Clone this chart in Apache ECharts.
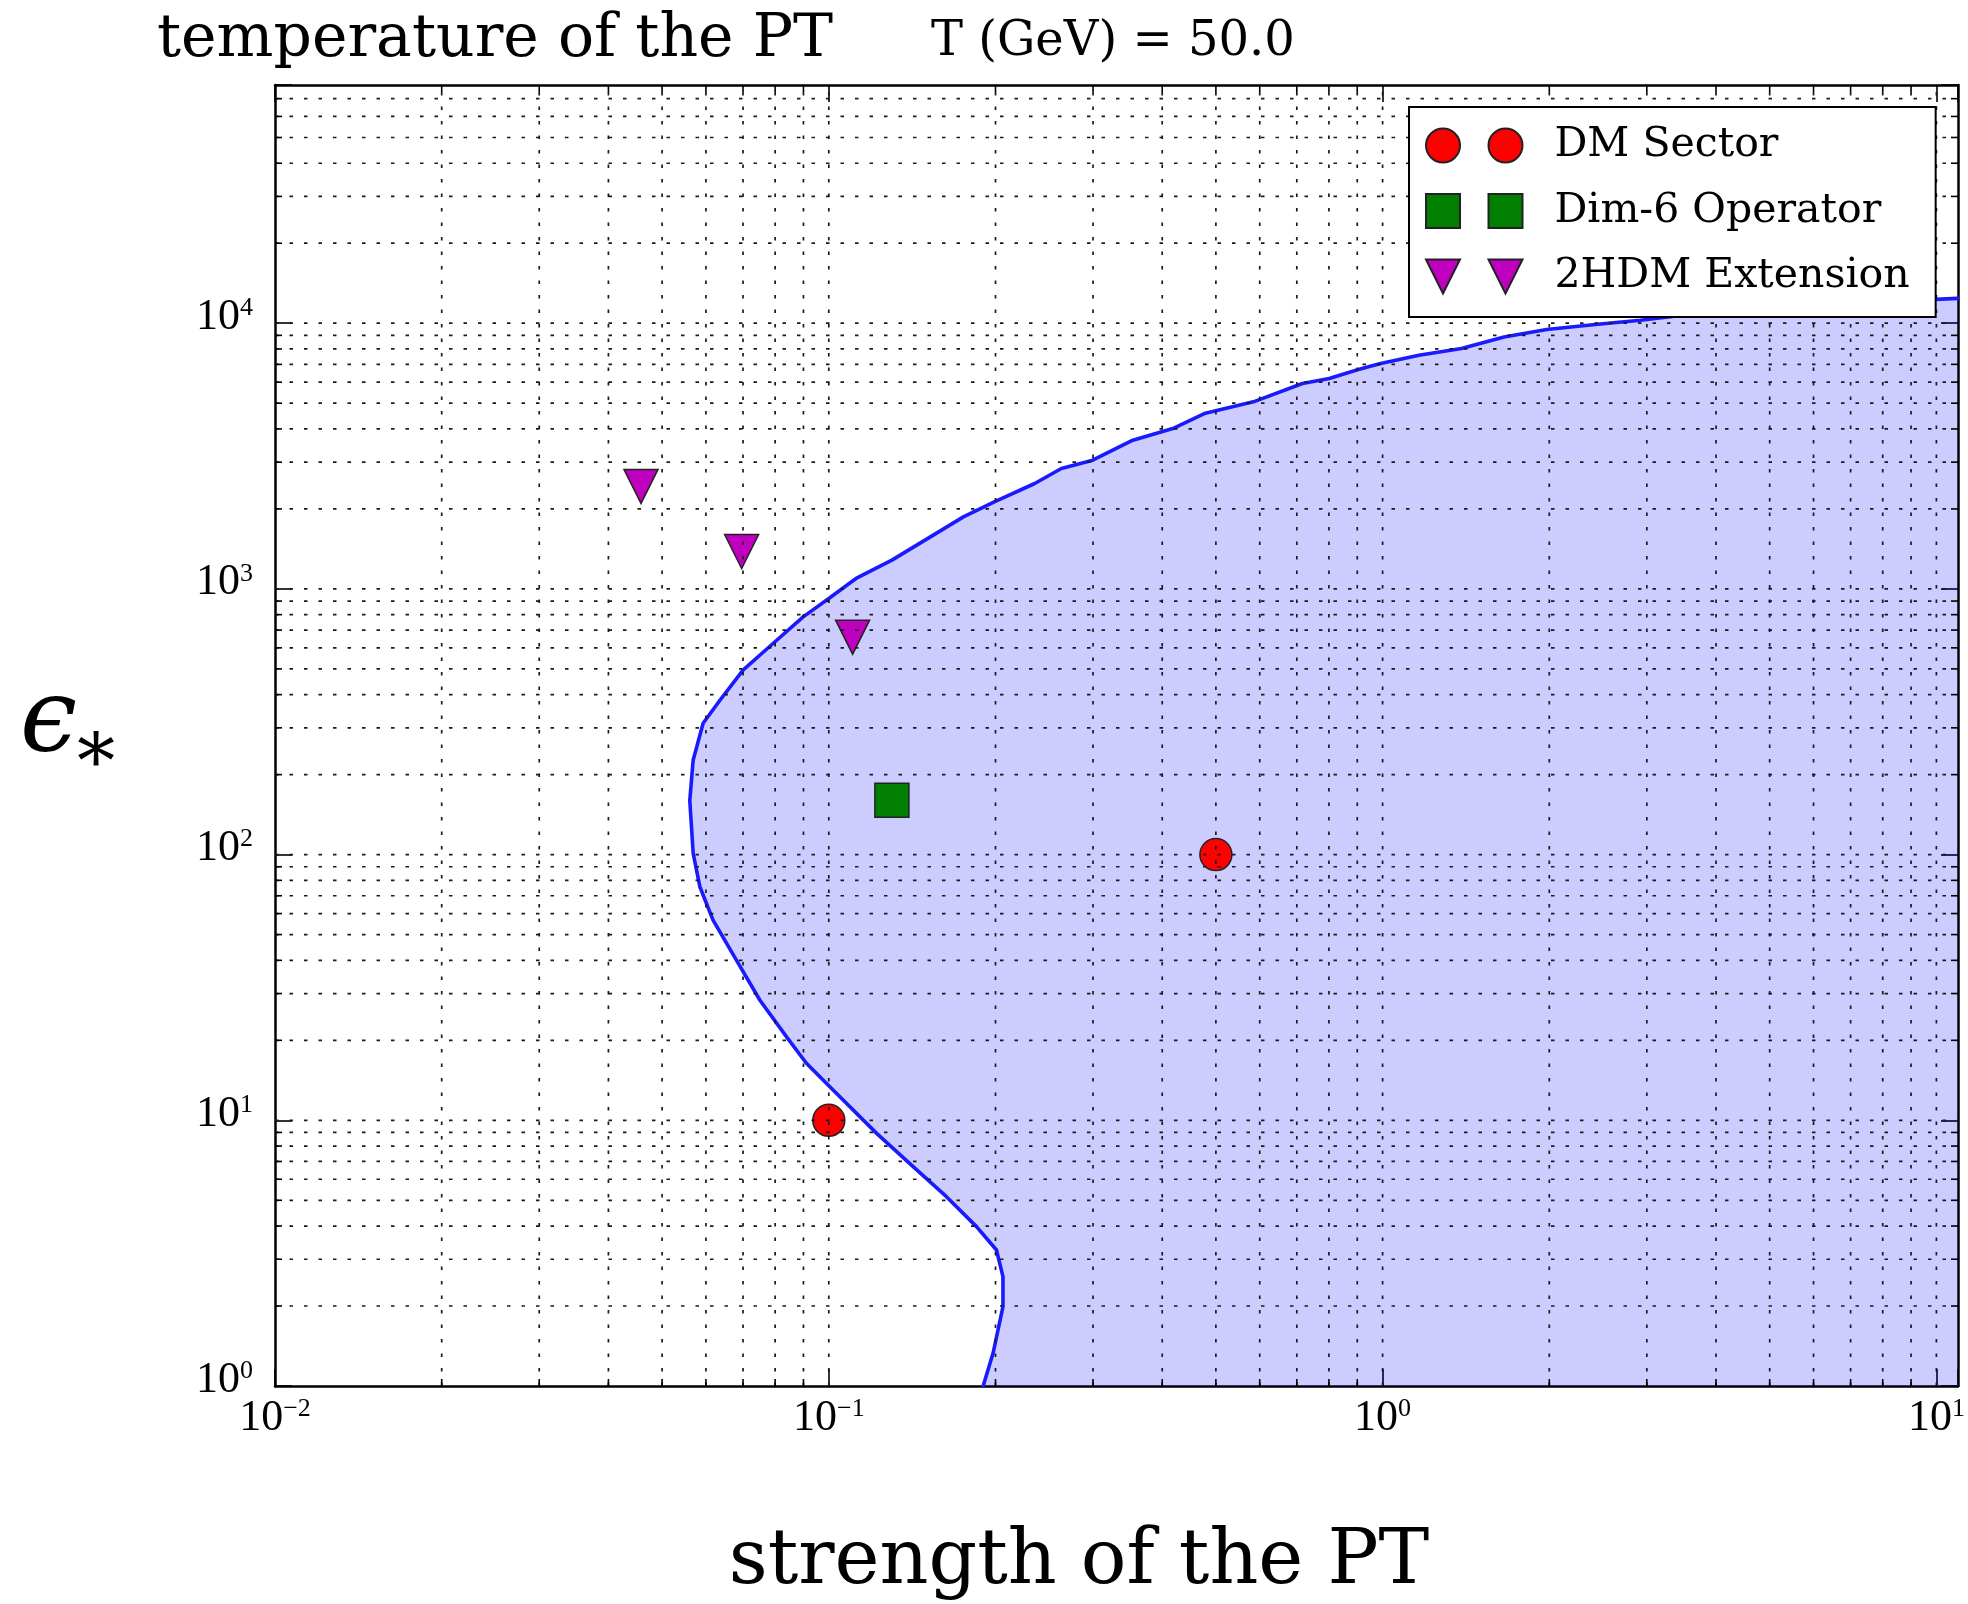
<!DOCTYPE html>
<html>
<head>
<meta charset="utf-8">
<script src="https://cdn.jsdelivr.net/npm/echarts@6/dist/echarts.min.js"></script>
<style>
html,body{margin:0;padding:0;background:#fff;}
#chart{width:1968px;height:1604px;}
</style>
</head>
<body>
<div id="chart"></div>
<script>
// ---- axis ranges ----
const X_MIN = 0.01, X_MAX = 10.94;
const Y_MIN = 1, Y_MAX = 78800;

// ---- scatter data ----
const dmSectorX = [0.1, 0.5];
const dmSectorY = [10, 100];
const dim6X = [0.13];
const dim6Y = [160];
const thdmX = [0.0458, 0.0696, 0.1104];
const thdmY = [2430, 1383, 658];

// ---- boundary curve (x = strength, y = epsilon) ----
const curveX = [0.19, 0.198, 0.2063, 0.2063, 0.2008, 0.1848, 0.1631, 0.142, 0.122, 0.1018, 0.0911, 0.0839, 0.0751,
  0.0681, 0.0618, 0.0585, 0.0569, 0.0561, 0.0569, 0.0593, 0.0636, 0.07, 0.0793, 0.0899, 0.099, 0.112, 0.13, 0.151,
  0.175, 0.199, 0.2354, 0.263, 0.2996, 0.354, 0.418, 0.4765, 0.5844, 0.7167, 0.801, 0.904, 0.992, 1.163, 1.388,
  1.657, 1.978, 2.447, 2.921, 3.365, 5.0, 7.0, 10.94];
const curveY = [1, 1.33, 1.99, 2.58, 3.25, 3.98, 5.16, 6.69, 8.93, 13.0, 16.4, 20.6, 28.3,
  40.1, 56.7, 75.7, 101, 160, 227, 312, 381, 495, 623, 785, 907, 1095, 1283, 1549,
  1867, 2127, 2493, 2839, 3051, 3628, 4015, 4571, 5058, 5930, 6194, 6694, 7052, 7580, 8030,
  8880, 9465, 9910, 10260, 10630, 11300, 11900, 12400];

// ---- grid line values ----
const xMajorGrid = [0.1, 1, 10];
const xMinorGrid = [0.02,0.03,0.04,0.05,0.06,0.07,0.08,0.09,0.2,0.3,0.4,0.5,0.6,0.7,0.8,0.9,2,3,4,5,6,7,8,9];
const yMajorGrid = [10, 100, 1000, 10000];
const yMinorGrid = [2,3,4,5,6,7,8,9,20,30,40,50,60,70,80,90,200,300,400,500,600,700,800,900,
  2000,3000,4000,5000,6000,7000,8000,9000,20000,30000,40000,50000,60000,70000];

const seriesNames = ['DM Sector', 'Dim-6 Operator', '2HDM Extension'];

const zip = (a, b) => a.map((v, i) => [v, b[i]]);

function powLabel(v) {
  const e = Math.log10(v);
  const r = Math.round(e);
  if (Math.abs(e - r) > 1e-6) return '';
  return '{n|10}{e|' + (r < 0 ? '\u2212' + (-r) : r) + '}';
}
const labelRich = {
  n: {fontFamily: 'Liberation Serif', fontSize: 44, lineHeight: 44, verticalAlign: 'top', color: '#000'},
  e: {fontFamily: 'Liberation Serif', fontSize: 26, lineHeight: 36, verticalAlign: 'top', color: '#000'}
};

const gridData = [];
xMajorGrid.forEach(v => gridData.push([v, Y_MIN, 0, 1]));
xMinorGrid.forEach(v => gridData.push([v, Y_MIN, 0, 0]));
yMajorGrid.forEach(v => gridData.push([X_MIN, v, 1, 1]));
yMinorGrid.forEach(v => gridData.push([X_MIN, v, 1, 0]));

const CIRCLES = 'path://M0,17 A17,17 0 1,1 34,17 A17,17 0 1,1 0,17 Z M62.5,17 A17,17 0 1,1 96.5,17 A17,17 0 1,1 62.5,17 Z';
const SQUARES = 'path://M0,0 L34,0 L34,34 L0,34 Z M62.5,0 L96.5,0 L96.5,34 L62.5,34 Z';
const TRIANGLES = 'path://M0,0 L34,0 L17,34 Z M62.5,0 L96.5,0 L79.5,34 Z';

const axisBase = {
  type: 'log', logBase: 10,
  axisLine: {show: true, onZero: false, lineStyle: {color: '#000', width: 2.5}},
  axisTick: {show: true, inside: true, length: 17, lineStyle: {color: '#000', width: 1.6}},
  splitLine: {show: false},
  minorTick: {show: false},
  minorSplitLine: {show: false}
};

const chart = echarts.init(document.getElementById('chart'), null, {renderer: 'canvas'});
chart.setOption({
  animation: false,
  backgroundColor: '#fff',
  grid: {left: 275, top: 85, width: 1683, height: 1301, containLabel: false},
  xAxis: [
    Object.assign({}, axisBase, {
      position: 'bottom', min: X_MIN, max: X_MAX,
      axisLabel: {show: true, formatter: powLabel, rich: labelRich, margin: 10, showMinLabel: true, showMaxLabel: true}
    }),
    Object.assign({}, axisBase, {
      position: 'top', min: X_MIN, max: X_MAX, axisLabel: {show: false}
    })
  ],
  yAxis: [
    Object.assign({}, axisBase, {
      position: 'left', min: Y_MIN, max: Y_MAX,
      axisLabel: {show: true, formatter: powLabel, rich: labelRich, margin: 22, padding: [0, 0, 12, 0], showMinLabel: true, showMaxLabel: true}
    }),
    Object.assign({}, axisBase, {
      position: 'right', min: Y_MIN, max: Y_MAX, axisLabel: {show: false}
    })
  ],
  legend: {
    orient: 'vertical', left: 1409, top: 107,
    padding: [18, 26, 20, 16], itemGap: 24.5, itemWidth: 96.5, itemHeight: 34,
    backgroundColor: '#fff', borderColor: '#000', borderWidth: 2,
    selectedMode: false, z: 20,
    textStyle: {fontFamily: 'DejaVu Serif', fontSize: 41, lineHeight: 34, color: '#000', padding: [0, 0, 0, 27]},
    data: [
      {name: seriesNames[0], icon: CIRCLES},
      {name: seriesNames[1], icon: SQUARES},
      {name: seriesNames[2], icon: TRIANGLES}
    ]
  },
  graphic: [
    {type: 'text', x: 157, y: 40, z: 50, style: {text: 'temperature of the PT', fontFamily: 'DejaVu Serif', fontSize: 60, fill: '#000', align: 'left', verticalAlign: 'middle'}},
    {type: 'text', x: 931, y: 43, z: 50, style: {text: 'T (GeV) = 50.0', fontFamily: 'DejaVu Serif', fontSize: 48, fill: '#000', align: 'left', verticalAlign: 'middle'}},
    {type: 'text', x: 1079, y: 1563, z: 50, style: {text: 'strength of the PT', fontFamily: 'DejaVu Serif', fontSize: 76, fill: '#000', align: 'center', verticalAlign: 'middle'}},
    {type: 'text', x: 20, y: 724, z: 50, style: {text: '\u03F5', fontFamily: 'DejaVu Serif', fontStyle: 'italic', fontSize: 102, fill: '#000', align: 'left', verticalAlign: 'middle'}},
    {type: 'text', x: 96, y: 752, z: 50, style: {text: '\u2217', fontFamily: 'DejaVu Serif', fontSize: 76, fill: '#000', align: 'center', verticalAlign: 'middle'}}
  ],
  series: [
    {
      type: 'custom', name: 'region', z: 1, silent: true,
      xAxisIndex: 0, yAxisIndex: 0,
      data: zip(curveX, curveY),
      encode: {x: 0, y: 1},
      renderItem: function (params, api) {
        if (params.dataIndex !== 0) return null;
        const pts = curveX.map((x, i) => api.coord([x, curveY[i]]));
        pts.push(api.coord([X_MAX, Y_MIN]));
        return {type: 'polygon', shape: {points: pts}, style: {fill: 'rgba(0,0,255,0.2)', stroke: null}};
      }
    },
    {
      type: 'line', name: 'boundary', z: 3, silent: true,
      xAxisIndex: 0, yAxisIndex: 0,
      data: zip(curveX, curveY),
      showSymbol: false, symbol: 'none', smooth: false,
      lineStyle: {color: '#1a1aff', width: 3.6, join: 'round', cap: 'round'}
    },
    {
      type: 'scatter', name: seriesNames[0], z: 4,
      data: zip(dmSectorX, dmSectorY),
      symbol: 'circle', symbolSize: 32,
      itemStyle: {color: '#ff0000', borderColor: '#222', borderWidth: 1.5, opacity: 1}
    },
    {
      type: 'scatter', name: seriesNames[1], z: 4,
      data: zip(dim6X, dim6Y),
      symbol: 'rect', symbolSize: 34,
      itemStyle: {color: '#007f00', borderColor: '#222', borderWidth: 1.5, opacity: 1}
    },
    {
      type: 'scatter', name: seriesNames[2], z: 4,
      data: zip(thdmX, thdmY),
      symbol: 'triangle', symbolSize: 34, symbolRotate: 180,
      itemStyle: {color: '#bf00bf', borderColor: '#222', borderWidth: 1.5, opacity: 1}
    },
    {
      type: 'custom', name: 'gridlines', z: 6, silent: true,
      xAxisIndex: 0, yAxisIndex: 0,
      data: gridData,
      encode: {x: 0, y: 1},
      renderItem: function (params, api) {
        const orient = api.value(2), major = api.value(3);
        let p1, p2;
        if (orient === 0) {
          p1 = api.coord([api.value(0), Y_MIN]);
          p2 = api.coord([api.value(0), Y_MAX]);
        } else {
          p1 = api.coord([X_MIN, api.value(1)]);
          p2 = api.coord([X_MAX, api.value(1)]);
        }
        const children = [{
          type: 'line',
          shape: {x1: p1[0], y1: p1[1], x2: p2[0], y2: p2[1]},
          style: {stroke: '#1a1a1a', lineWidth: 1.7, lineDash: [3.5, 11]}
        }];
        if (!major) {
          const L = 7;
          if (orient === 0) {
            children.push({type: 'line', shape: {x1: p1[0], y1: p1[1], x2: p1[0], y2: p1[1] - L}, style: {stroke: '#000', lineWidth: 1.6}});
            children.push({type: 'line', shape: {x1: p2[0], y1: p2[1], x2: p2[0], y2: p2[1] + L}, style: {stroke: '#000', lineWidth: 1.6}});
          } else {
            children.push({type: 'line', shape: {x1: p1[0], y1: p1[1], x2: p1[0] + L, y2: p1[1]}, style: {stroke: '#000', lineWidth: 1.6}});
            children.push({type: 'line', shape: {x1: p2[0], y1: p2[1], x2: p2[0] - L, y2: p2[1]}, style: {stroke: '#000', lineWidth: 1.6}});
          }
        }
        return {type: 'group', children: children};
      }
    }
  ]
});
</script>
</body>
</html>
